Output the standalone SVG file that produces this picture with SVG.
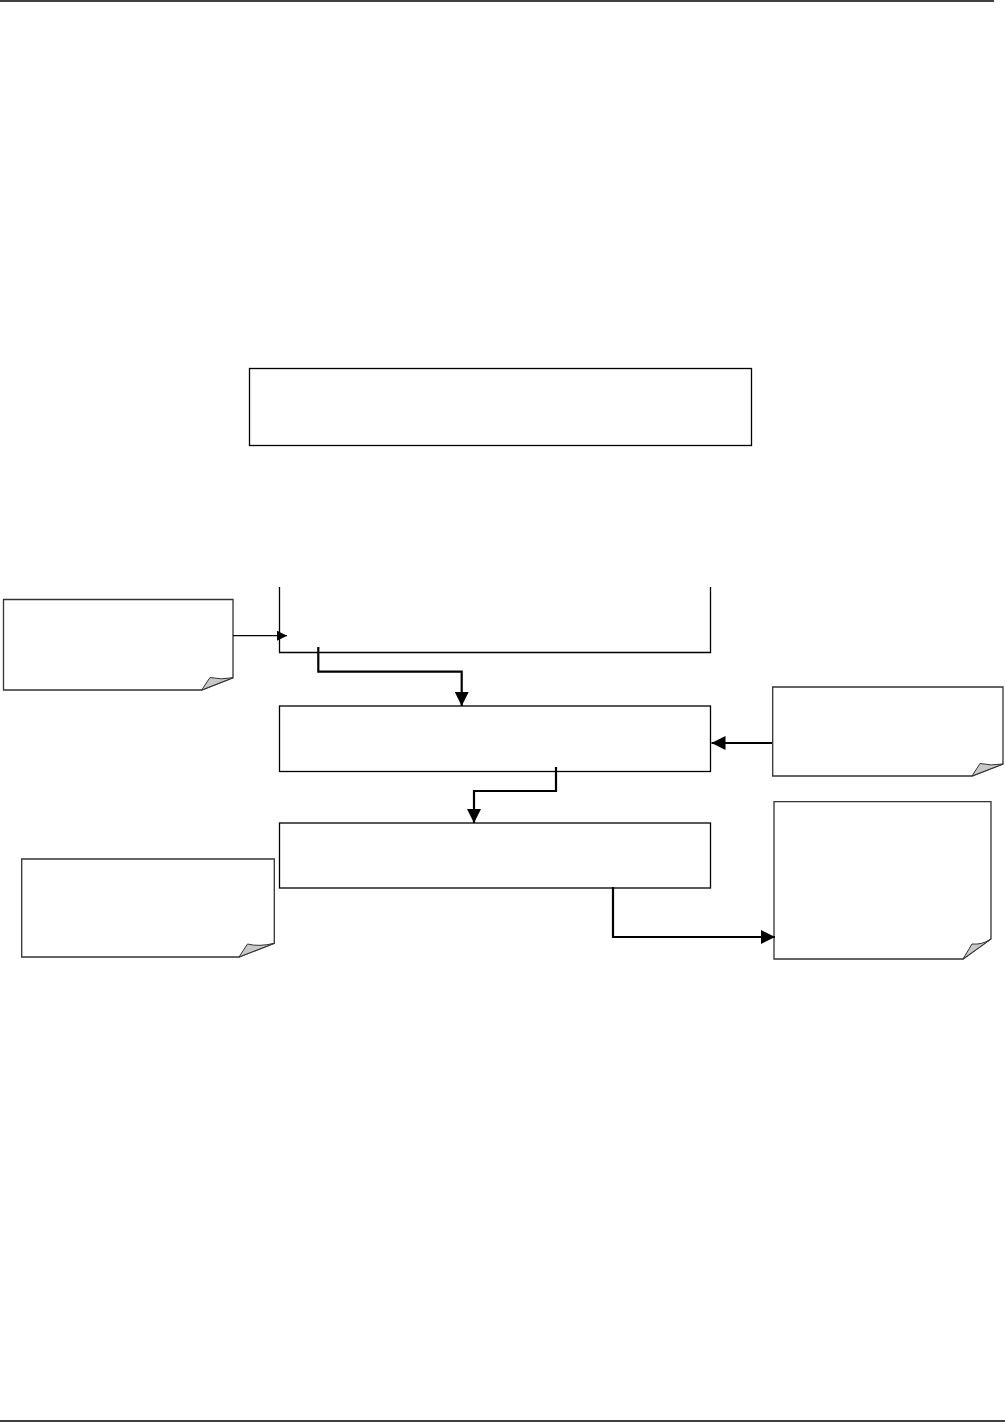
<svg xmlns="http://www.w3.org/2000/svg" width="1005" height="1424" viewBox="0 0 1005 1424">
<style>
.box{fill:#fff;stroke:#000;stroke-width:1.3}
.note{fill:#fff;stroke:#333;stroke-width:1.3;stroke-linejoin:miter}
.curl{fill:#c8c8c8;stroke:#333;stroke-width:1}
.thin{fill:none;stroke:#000;stroke-width:1.3}
.thick{fill:none;stroke:#000;stroke-width:2.2}
.rule{stroke:#000;stroke-width:1.5}
</style>
<defs>
<marker id="ah" viewBox="0 0 10 10" refX="10" refY="5" markerWidth="10" markerHeight="10" markerUnits="userSpaceOnUse" orient="auto">
<path d="M0,0 L10,5 L0,10 Z" fill="#000"/>
</marker>
<marker id="ahb" viewBox="0 0 10 10" refX="10" refY="5" markerWidth="14" markerHeight="14" markerUnits="userSpaceOnUse" orient="auto">
<path d="M0,0 L10,5 L0,10 Z" fill="#000"/>
</marker>
</defs>
<line class="rule" x1="0" y1="1" x2="994" y2="1"/>
<line class="rule" x1="0" y1="1421" x2="1005" y2="1421"/>

<g id="box-top"><rect class="box" x="249.5" y="368.5" width="502" height="77"/></g>
<g id="box-open"><path class="thin" d="M279.5,587 V652.5 H710.5 V587"/></g>
<g id="box-mid"><rect class="box" x="279.5" y="706" width="431" height="65.5"/></g>
<g id="box-low"><rect class="box" x="279.5" y="823" width="431" height="65"/></g>

<g id="note-left-top">
<path class="note" d="M3.5,599.5 H233 V677.7 L201.7,690 H3.5 Z"/>
<path class="curl" d="M201.7,690 L210,677.5 Q221,680 233,677.7 Z"/>
</g>
<g id="note-right-top">
<path class="note" d="M772.7,687 H1003 V764 L972,776 H772.7 Z"/>
<path class="curl" d="M972,776 L980,763.5 Q991,766 1003,764 Z"/>
</g>
<g id="note-left-bottom">
<path class="note" d="M21.7,859 H274.3 V943.3 L239,957 H21.7 Z"/>
<path class="curl" d="M239,957 L247.5,944 Q259,947 274.3,943.3 Z"/>
</g>
<g id="note-right-bottom">
<path class="note" d="M774,801.7 H991 V939 L963,959 H774 Z"/>
<path class="curl" d="M963,959 L972,944 Q982,945 991,939 Z"/>
</g>

<g id="connectors">
<path class="thin" d="M233,635.7 H287" marker-end="url(#ah)"/>
<path class="thick" d="M318.3,647 V671.7 H461.7 V706" marker-end="url(#ahb)"/>
<path class="thick" d="M772,743 H711.5" marker-end="url(#ahb)"/>
<path class="thick" d="M556,767 V791 H474 V823" marker-end="url(#ahb)"/>
<path class="thick" d="M613,887 V937 H775" marker-end="url(#ahb)"/>
</g>
</svg>
